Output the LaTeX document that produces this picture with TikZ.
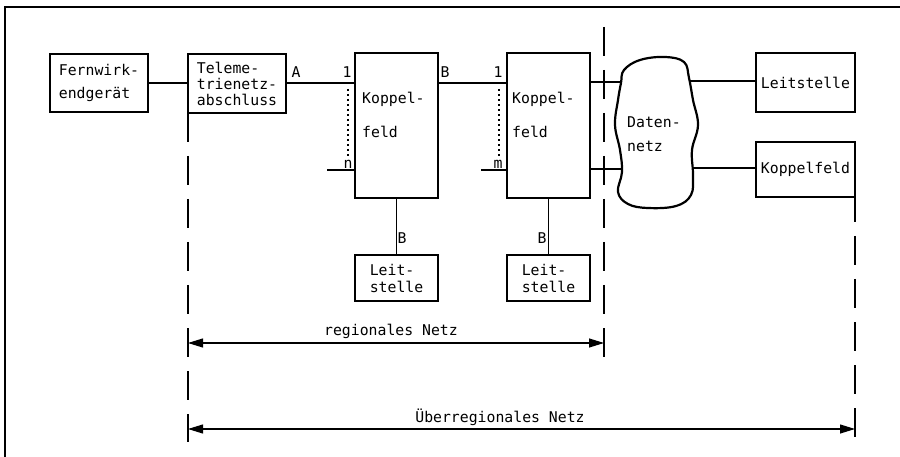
\documentclass[tikz,border=0pt]{standalone}
\usepackage{fontspec}
\setmainfont{DejaVu Sans Mono}
\usetikzlibrary{arrows.meta}
\newcommand\dgfont[1]{\fontsize{14.8}{#1}\selectfont}
\begin{document}
\begin{tikzpicture}[x=1pt,y=-1pt,
  box/.style={draw,line width=2.2pt,inner sep=0pt,outer sep=0pt,align=left},
  lbl/.style={inner sep=0pt,font=\dgfont{17}},
  conn/.style={line width=1.1pt},
  dashln/.style={line width=1.7pt,dash pattern=on 29pt off 14pt},
  dotln/.style={line width=1.8pt,dash pattern=on 2pt off 3pt},
  dimarrow/.style={line width=1.1pt,{Triangle[length=15pt,width=9pt]}-{Triangle[length=15pt,width=9pt]}}]
\useasboundingbox (0,0) rectangle (900,457);
% frame
\draw[line width=1.3pt] (5,457) -- (5,7) -- (900,7);
% boxes
\node[box,minimum width=98pt,minimum height=58pt,font=\dgfont{23}] (fern) at (99,83) {Fernwirk-\\endgerät};
\node[box,minimum width=98pt,minimum height=59pt,font=\dgfont{16}] (tele) at (237,83.5) {Teleme-\\trienetz-\\abschluss};
\node[box,minimum width=83pt,minimum height=145pt] (kfa) at (396.5,125.5) {};
\node[box,minimum width=83pt,minimum height=145pt] (kfb) at (548.5,125.5) {};
\node[box,minimum width=83pt,minimum height=46pt,font=\dgfont{17}] (lsa) at (396.5,278) {Leit-\\stelle};
\node[box,minimum width=83pt,minimum height=46pt,font=\dgfont{17}] (lsb) at (548.5,278) {Leit-\\stelle};
\node[box,minimum width=99pt,minimum height=59pt,font=\dgfont{17}] (lsr) at (805.5,82.5) {Leitstelle};
\node[box,minimum width=99pt,minimum height=55pt,font=\dgfont{17}] (kfr) at (805.5,169.5) {Koppelfeld};
\node[lbl,anchor=west,align=left,font=\dgfont{34}] (kfatxt) at (362,115) {Koppel-\\feld};
\node[lbl,anchor=west,align=left,font=\dgfont{34}] (kfbtxt) at (512,115) {Koppel-\\feld};
% cloud
\draw[line width=2.2pt] plot[smooth cycle,tension=0.65] coordinates {(624,70) (640,60) (665,57) (684,62) (689,78) (693,100) (698,125) (692,150) (693,175) (691,195) (676,206) (648,208) (628,204) (618,192) (622,172) (620,150) (615,125) (618,100) (621,83)};
\node[lbl,anchor=west,align=left,font=\dgfont{24}] (dn) at (627,134) {Daten-\\netz};
\coordinate (cl1) at (621,82);
\coordinate (cl2) at (622,169);
\coordinate (cr1) at (689,81);
\coordinate (cr2) at (693,168);
% connectors
\draw[conn] (fern.east |- 0,83) -- (tele.west |- 0,83);
\draw[conn] (tele.east |- 0,83) -- (kfa.west |- 0,83);
\draw[conn] (kfa.east |- 0,83) -- (kfb.west |- 0,83);
\coordinate (stuba) at (327,170);
\coordinate (stubb) at (481,170);
\draw[conn] (stuba) -- (kfa.west |- stuba);
\draw[conn] (stubb) -- (kfb.west |- stubb);
\draw[dotln] (348,89) -- (348,156);
\draw[dotln] (499,89) -- (499,156);
\draw[conn] (kfb.east |- cl1) -- (cl1);
\draw[conn] (kfb.east |- cl2) -- (cl2);
\draw[conn] (cr1) -- (lsr.west |- cr1);
\draw[conn] (cr2) -- (kfr.west |- cr2);
\draw[conn] (kfa.south) -- (lsa.north);
\draw[conn] (kfb.south) -- (lsb.north);
% labels
\node[lbl] (la) at (296,72) {A};
\node[lbl] (l1a) at (347,72) {1};
\node[lbl] (lna) at (348,164) {n};
\node[lbl] (lba) at (445,72) {B};
\node[lbl] (l1b) at (498,72) {1};
\node[lbl] (lmb) at (498,164) {m};
\node[lbl] (lbs1) at (402,238) {B};
\node[lbl] (lbs2) at (542,238) {B};
% dashed boundaries
\coordinate (dl1) at (188,442);
\coordinate (dm0) at (604,27);
\coordinate (dm1) at (604,357);
\coordinate (dr1) at (855,441);
\draw[dashln] (tele.south west) -- (dl1);
\draw[dashln] (dm0) -- (dm1);
\draw[dashln,dash phase=4pt] (kfr.south east) -- (dr1);
% dimension arrows
\coordinate (ra) at (188,343);
\coordinate (rb) at (604,343);
\coordinate (ua) at (188,429);
\coordinate (ub) at (855,429);
\draw[dimarrow] (ra) -- (rb);
\draw[dimarrow] (ua) -- (ub);
\node[lbl] (lreg) at (391,331) {regionales Netz};
\node[lbl] (lueb) at (500,417) {Überregionales Netz};
\end{tikzpicture}
\end{document}
